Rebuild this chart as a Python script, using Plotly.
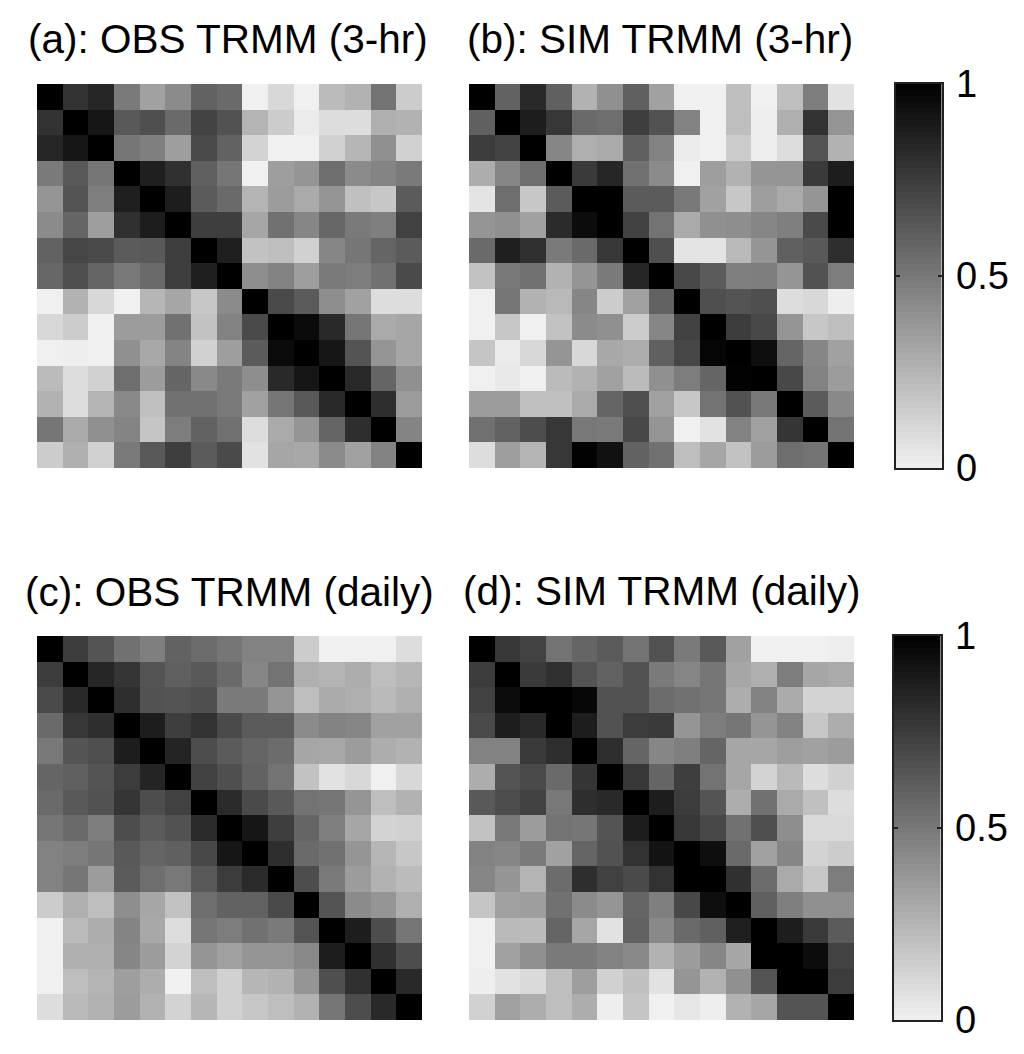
import plotly.graph_objects as go

titles = ["(a): OBS TRMM (3-hr)", "(b): SIM TRMM (3-hr)", "(c): OBS TRMM (daily)", "(d): SIM TRMM (daily)"]
cbar_ticks = [0, 0.5, 1]
cbar_labels = ["0", "0.5", "1"]
cbar_steps = 64

obs_3hr = [
[1,.79,.84,.49,.33,.42,.59,.56,0,.10,0,.22,.26,.52,.15],
[.79,1,.91,.63,.67,.56,.72,.66,.25,.15,.02,.08,.08,.27,.26],
[.84,.91,1,.51,.47,.34,.69,.59,.12,0,0,.13,.24,.40,.13],
[.49,.63,.51,1,.87,.80,.60,.51,0,.34,.38,.54,.42,.45,.49],
[.38,.65,.47,.87,1,.88,.62,.56,.25,.35,.29,.38,.2,.17,.62],
[.42,.58,.34,.8,.88,1,.74,.74,.31,.53,.44,.57,.49,.47,.73],
[.59,.71,.69,.62,.63,.74,1,.87,.19,.21,.13,.44,.51,.58,.62],
[.57,.67,.58,.5,.56,.74,.87,1,.41,.46,.34,.49,.48,.53,.69],
[0,.26,.1,0,.24,.31,.17,.42,1,.69,.62,.41,.33,.08,.08],
[.1,.15,0,.35,.35,.53,.19,.46,.69,1,.96,.83,.51,.29,.31],
[0,.01,0,.4,.3,.45,.13,.34,.62,.96,1,.91,.65,.38,.31],
[.22,.08,.13,.54,.35,.58,.43,.49,.41,.83,.91,1,.83,.58,.4],
[.26,.08,.25,.43,.2,.53,.53,.49,.33,.51,.63,.83,1,.81,.35],
[.51,.29,.4,.45,.18,.48,.59,.53,.08,.29,.38,.58,.81,1,.45],
[.15,.27,.13,.49,.63,.74,.62,.69,.06,.31,.3,.42,.33,.46,1],
]
sim_3hr = [
[1,.59,.83,.6,.26,.4,.6,.33,0,0,.21,0,.21,.48,.06],
[.6,1,.88,.77,.56,.54,.74,.66,.46,0,.21,.01,.27,.79,.38],
[.75,.72,1,.44,.27,.29,.6,.46,.02,0,.15,.01,.08,.65,.26],
[.28,.44,.54,1,.76,.84,.53,.42,0,.34,.26,.38,.38,.76,.88],
[.05,.54,.17,.62,1,1,.62,.62,.5,.33,.17,.34,.29,.38,1],
[.38,.4,.33,.82,.95,1,.73,.52,.29,.4,.41,.44,.47,.69,1],
[.56,.87,.8,.49,.56,.77,1,.67,.05,.05,.23,.38,.6,.63,.81],
[.19,.5,.53,.26,.38,.49,.84,1,.7,.62,.47,.48,.38,.66,.48],
[0,.51,.26,.23,.44,.15,.33,.59,1,.67,.65,.67,.08,.1,.01],
[0,.17,0,.19,.42,.4,.15,.44,.73,1,.75,.7,.38,.17,.21],
[.18,.02,.1,.38,.1,.3,.28,.6,.71,.98,1,.94,.58,.44,.33],
[0,.03,0,.22,.26,.33,.22,.4,.48,.58,.99,1,.7,.46,.35],
[.35,.35,.2,.2,.29,.58,.67,.33,.17,.52,.66,.5,1,.62,.43],
[.53,.59,.68,.77,.5,.49,.7,.38,0,.06,.46,.33,.78,1,.52],
[.08,.34,.25,.77,.99,.93,.59,.53,.21,.31,.19,.35,.54,.52,1],
]
obs_daily = [
[1,.75,.65,.53,.47,.59,.55,.51,.46,.46,.15,0,0,0,.08],
[.75,1,.84,.78,.65,.6,.63,.56,.44,.52,.27,.25,.28,.21,.24],
[.69,.83,1,.81,.66,.65,.67,.49,.49,.38,.21,.29,.27,.23,.27],
[.56,.77,.81,1,.88,.74,.79,.69,.62,.62,.42,.46,.44,.33,.33],
[.5,.65,.67,.88,1,.85,.68,.62,.58,.55,.31,.3,.35,.28,.26],
[.58,.6,.65,.75,.85,1,.73,.67,.59,.52,.19,.06,.1,0,.1],
[.56,.63,.66,.78,.68,.73,1,.82,.69,.63,.52,.51,.38,.21,.26],
[.51,.56,.48,.68,.62,.66,.82,1,.91,.74,.58,.47,.31,.12,.13],
[.46,.48,.51,.63,.58,.6,.7,.91,1,.81,.56,.53,.38,.24,.17],
[.46,.51,.35,.62,.54,.5,.63,.75,.82,1,.68,.49,.35,.26,.22],
[.15,.27,.21,.41,.31,.19,.54,.59,.59,.69,1,.65,.42,.38,.27],
[0,.22,.28,.45,.3,.08,.51,.48,.53,.49,.65,1,.88,.68,.51],
[0,.27,.27,.44,.35,.12,.38,.33,.38,.38,.43,.88,1,.8,.68],
[0,.21,.25,.34,.28,0,.21,.13,.24,.26,.38,.67,.8,1,.83],
[.08,.23,.26,.35,.26,.12,.24,.13,.17,.21,.26,.51,.68,.83,1],
]
sim_daily = [
[1,.77,.72,.52,.58,.62,.52,.66,.49,.63,.33,0,0,0,.01],
[.75,1,.76,.8,.65,.59,.66,.49,.44,.51,.31,.27,.48,.31,.29],
[.73,.95,1,1,.97,.66,.66,.55,.53,.51,.28,.46,.29,.12,.12],
[.69,.88,.83,1,.88,.66,.75,.76,.38,.48,.51,.38,.46,.17,.28],
[.46,.46,.76,.81,1,.81,.58,.44,.47,.58,.31,.31,.34,.33,.35],
[.28,.65,.69,.56,.78,1,.77,.58,.74,.52,.31,.12,.23,.08,.13],
[.63,.68,.73,.5,.81,.83,1,.88,.75,.65,.28,.53,.29,.2,.08],
[.19,.5,.35,.52,.51,.65,.88,1,.77,.7,.53,.67,.41,.09,.09],
[.46,.44,.49,.33,.58,.66,.79,.92,1,.94,.56,.33,.44,.12,.15],
[.44,.38,.25,.55,.81,.73,.69,.79,1,1,.8,.55,.29,.17,.48],
[.18,.33,.34,.53,.42,.38,.58,.47,.7,.94,1,.6,.47,.4,.4],
[0,.23,.22,.58,.31,.06,.59,.43,.56,.6,.87,1,.88,.76,.62],
[0,.33,.4,.49,.49,.46,.43,.26,.35,.44,.31,1,1,.95,.72],
[.01,.06,.09,.21,.34,.13,.2,.06,.38,.26,.4,.65,1,1,.75],
[.13,.33,.28,.21,.28,.01,.18,0,.04,.01,.26,.31,.65,.65,1],
]

W, H = 1024, 1054
FONT = "Liberation Sans, Arial, sans-serif"
GRAYS = [[0, "rgb(240,240,240)"], [1, "rgb(0,0,0)"]]
# pixel boxes of the panels: left, right, top, bottom
boxes = [(37, 422, 84, 468), (469, 854, 84, 468), (37, 422, 636, 1020), (469, 854, 636, 1020)]
title_pos = [(27, 53), (466, 53), (24, 606), (462, 605)]
cbar_boxes = [(896, 941.5, 84, 468), (894, 940.5, 636, 1020)]
panels = [obs_3hr, sim_3hr, obs_daily, sim_daily]

fig = go.Figure()
layout = {}
for i, (z, box) in enumerate(zip(panels, boxes)):
    l, r, t, b = box
    sfx = "" if i == 0 else str(i + 1)
    fig.add_trace(go.Heatmap(z=z, zmin=0, zmax=1, colorscale=GRAYS, xaxis="x" + sfx, yaxis="y" + sfx,
                             showscale=False, hoverinfo="skip"))
    layout["xaxis" + sfx] = dict(domain=[l / W, r / W], visible=False, anchor="y" + sfx,
                                 range=[-0.5, 14.5], fixedrange=True, automargin=False)
    layout["yaxis" + sfx] = dict(domain=[1 - b / H, 1 - t / H], visible=False, anchor="x" + sfx,
                                 range=[14.5, -0.5], fixedrange=True, automargin=False)

# colour ramps, each on its own pair of axes so the ticks sit inside on both sides
ramp = [(k + 0.5) / cbar_steps for k in range(cbar_steps)]
for j, (l, r, t, b) in enumerate(cbar_boxes):
    n = str(5 + j)
    fig.add_trace(go.Heatmap(z=[[v] for v in ramp], x=[0], y=ramp, zmin=0, zmax=1, colorscale=GRAYS,
                             xaxis="x" + n, yaxis="y" + n, showscale=False, hoverinfo="skip"))
    layout["xaxis" + n] = dict(domain=[l / W, r / W], anchor="y" + n, range=[-0.5, 0.5], automargin=False,
                               showticklabels=False, ticks="", showgrid=False, zeroline=False,
                               showline=True, linecolor="#222", linewidth=2, mirror=True, fixedrange=True)
    layout["yaxis" + n] = dict(domain=[1 - b / H, 1 - t / H], anchor="x" + n, side="right", range=[0, 1],
                               automargin=False, tickmode="array", tickvals=cbar_ticks, ticktext=cbar_labels,
                               ticks="inside", ticklen=4, tickwidth=1.5, tickcolor="#222",
                               ticklabelstandoff=5, showgrid=False, zeroline=False,
                               showline=True, linecolor="#222", linewidth=2, mirror="allticks",
                               tickfont=dict(family=FONT, size=38, color="#000"), fixedrange=True)

annotations = [dict(text=txt, xref="paper", yref="paper", x=px / W, y=1 - (py + 10) / H,
                    xanchor="left", yanchor="bottom", showarrow=False, align="left",
                    borderpad=0, font=dict(family=FONT, size=40.5, color="#000"))
               for txt, (px, py) in zip(titles, title_pos)]

fig.update_layout(width=W, height=H, margin=dict(l=0, r=0, t=0, b=0), autosize=False,
                  paper_bgcolor="white", plot_bgcolor="white", annotations=annotations,
                  showlegend=False, **layout)
fig.write_html("out.html", config={"displayModeBar": False},
               post_script="document.body.style.margin='0';document.documentElement.style.overflow='hidden';")
